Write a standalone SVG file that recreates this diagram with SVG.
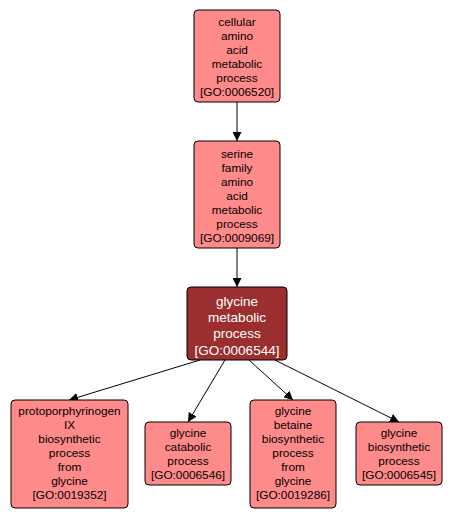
<svg xmlns="http://www.w3.org/2000/svg" width="452" height="519" viewBox="0 0 452 519">
<defs>
<marker id="ah" viewBox="0 0 10 10" refX="10" refY="5" markerWidth="9" markerHeight="9" markerUnits="userSpaceOnUse" orient="auto">
<path d="M0,0 L10,5 L0,10 z" fill="#000"/>
</marker>
</defs>
<style>
.n rect{fill:#ff8a8a;stroke:#000;stroke-width:1}
.n text{font-family:"Liberation Sans",Arial,sans-serif;font-size:11.8px;fill:#000;text-anchor:middle}
.h rect{fill:#9b2f2f;stroke:#000;stroke-width:1}
.h text{font-family:"Liberation Sans",Arial,sans-serif;font-size:13.5px;fill:#fff;text-anchor:middle}
.e line{stroke:#000;stroke-width:1;marker-end:url(#ah)}
</style>
<rect width="452" height="519" fill="#fff"/>
<g class="e" id="edges">
<line x1="237" y1="102" x2="237" y2="141"/>
<line x1="237" y1="248" x2="237" y2="287"/>
<line x1="200" y1="360" x2="69" y2="400"/>
<line x1="225" y1="360" x2="188" y2="422"/>
<line x1="249" y1="360" x2="293" y2="400"/>
<line x1="275" y1="360" x2="399" y2="422"/>
</g>
<g class="n" id="GO0006520">
<rect x="194" y="10" width="86" height="92" rx="4"/>
<text x="237" y="26">cellular</text>
<text x="237" y="40">amino</text>
<text x="237" y="54">acid</text>
<text x="237" y="68">metabolic</text>
<text x="237" y="82">process</text>
<text x="237" y="96">[GO:0006520]</text>
</g>
<g class="n" id="GO0009069">
<rect x="194" y="141" width="86" height="107" rx="4"/>
<text x="237" y="158">serine</text>
<text x="237" y="172">family</text>
<text x="237" y="186">amino</text>
<text x="237" y="200">acid</text>
<text x="237" y="214">metabolic</text>
<text x="237" y="228">process</text>
<text x="237" y="242">[GO:0009069]</text>
</g>
<g class="h" id="GO0006544">
<rect x="187" y="287" width="100" height="73" rx="4"/>
<text x="237" y="306">glycine</text>
<text x="237" y="322">metabolic</text>
<text x="237" y="338">process</text>
<text x="237" y="355">[GO:0006544]</text>
</g>
<g class="n" id="GO0019352">
<rect x="11" y="400" width="117" height="108" rx="4"/>
<text x="69.5" y="415">protoporphyrinogen</text>
<text x="69.5" y="429">IX</text>
<text x="69.5" y="443">biosynthetic</text>
<text x="69.5" y="457">process</text>
<text x="69.5" y="471">from</text>
<text x="69.5" y="485">glycine</text>
<text x="69.5" y="499">[GO:0019352]</text>
</g>
<g class="n" id="GO0006546">
<rect x="145" y="422" width="86" height="63" rx="4"/>
<text x="188" y="437">glycine</text>
<text x="188" y="451">catabolic</text>
<text x="188" y="465">process</text>
<text x="188" y="479">[GO:0006546]</text>
</g>
<g class="n" id="GO0019286">
<rect x="250" y="400" width="86" height="108" rx="4"/>
<text x="293" y="415">glycine</text>
<text x="293" y="429">betaine</text>
<text x="293" y="443">biosynthetic</text>
<text x="293" y="457">process</text>
<text x="293" y="471">from</text>
<text x="293" y="485">glycine</text>
<text x="293" y="499">[GO:0019286]</text>
</g>
<g class="n" id="GO0006545">
<rect x="356" y="422" width="86" height="63" rx="4"/>
<text x="399" y="437">glycine</text>
<text x="399" y="451">biosynthetic</text>
<text x="399" y="465">process</text>
<text x="399" y="479">[GO:0006545]</text>
</g>
</svg>
